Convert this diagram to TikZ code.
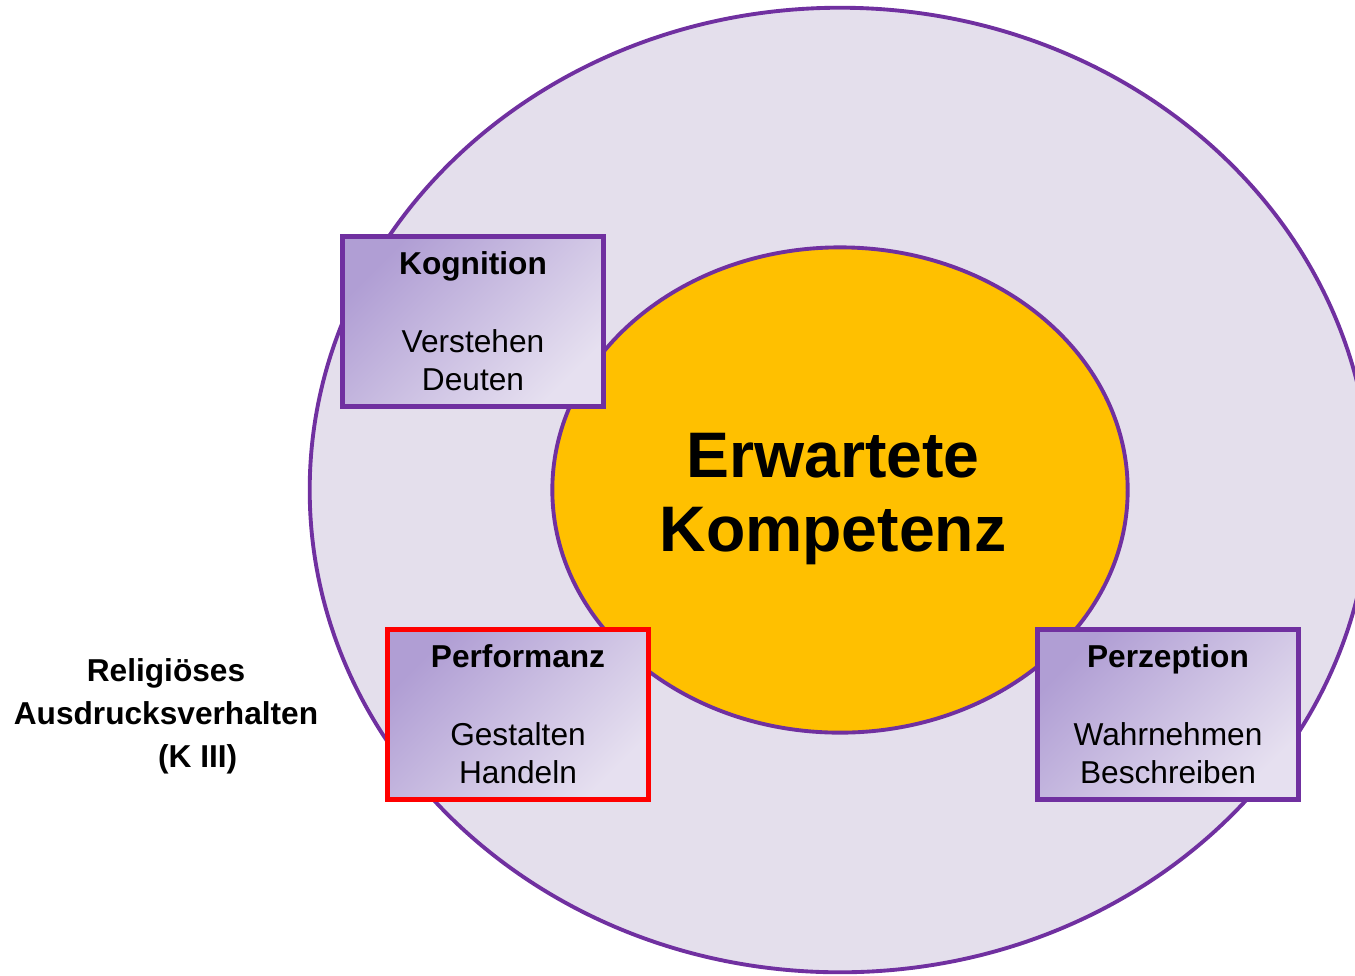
\documentclass[tikz,border=0pt]{standalone}
\usepackage{fontspec}
\setmainfont{Liberation Sans}
\usetikzlibrary{shapes.geometric}

\definecolor{lila}{HTML}{7030A0}
\definecolor{lilahell}{HTML}{E4DFEC}
\definecolor{kompetenzgelb}{HTML}{FFC000}
\definecolor{boxdunkel}{HTML}{B09ED4}
\definecolor{boxhell}{HTML}{E6E0F0}

\begin{document}
\begin{tikzpicture}[x=0.01cm,y=-0.01cm,
    feld/.style={rectangle, draw=lila, line width=1.6pt,
        top color=boxdunkel, bottom color=boxhell, shading angle=45,
        minimum width=2.61cm, minimum height=1.70cm, inner sep=0pt,
        align=center, font=\fontsize{9pt}{11pt}\selectfont}]

% Picture frame, pixel units of the original
\useasboundingbox (0,0) rectangle (1355,975);
\clip (0,0) rectangle (1355,975);

% Outer ellipse
\node[ellipse, draw=lila, line width=1.1pt, fill=lilahell,
    minimum width=10.6cm, minimum height=9.64cm, inner sep=0pt]
    (aussen) at (840,490) {};

% Inner ellipse
\node[ellipse, draw=lila, line width=1.1pt, fill=kompetenzgelb,
    minimum width=5.75cm, minimum height=4.85cm, inner sep=0pt]
    (innen) at (840,490) {};

% Central label
\node[align=center, font=\fontsize{18.3pt}{21.3pt}\selectfont\bfseries]
    (kompetenz) at (833,499) {Erwartete\\Kompetenz};

% The three boxes
\node[feld] (kognition) at (473,321.5)
    {\textbf{Kognition}\\[11pt]Verstehen\\Deuten};

\node[feld, draw=red] (performanz) at (518,714.5)
    {\textbf{Performanz}\\[11pt]Gestalten\\Handeln};

\node[feld] (perzeption) at (1168,714.5)
    {\textbf{Perzeption}\\[11pt]Wahrnehmen\\Beschreiben};

% Side label
\node[align=center, font=\fontsize{9pt}{12.2pt}\selectfont\bfseries]
    (ausdruck) at (166,716)
    {Religiöses\\Ausdrucksverhalten\\\hspace*{2em}(K III)};

\end{tikzpicture}
\end{document}
